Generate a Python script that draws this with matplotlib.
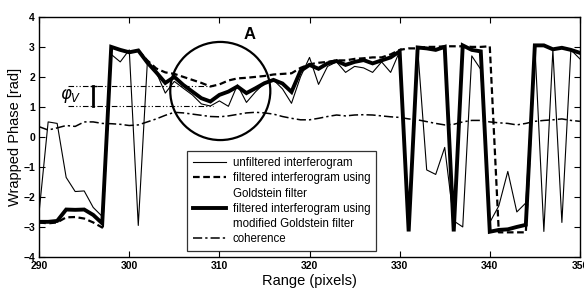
import numpy as np
import matplotlib
matplotlib.use("Agg")
import matplotlib.pyplot as plt
from matplotlib.lines import Line2D
from matplotlib.patches import Ellipse

plt.rcParams['font.family'] = ['Liberation Sans', 'DejaVu Sans']

# range axis (pixels)
rng = np.arange(290, 351)

unfiltered = [-2.5, 0.5, 0.45, -1.35, -1.82, -1.8, -2.35, -2.65, 2.75, 2.5,
              2.9, -2.95, 2.45, 2.15, 1.46, 1.85, 1.62, 1.4, 1.1, 1.03,
              1.2, 1.02, 1.73, 1.15, 1.5, 1.79, 1.9, 1.6, 1.12, 2.0,
              2.65, 1.75, 2.35, 2.5, 2.15, 2.35, 2.3, 2.15, 2.5, 2.15,
              2.85, -3.1, 2.95, -1.1, -1.25, -0.35, -2.8, -3.0, 2.7, 2.25,
              -2.85, -2.3, -1.15, -2.5, -2.2, 3.05, -3.15, 2.9, -2.85, 2.9,
              2.6]

goldstein = [-2.85, -2.88, -2.85, -2.68, -2.67, -2.72, -2.85, -3.02, 3.0, 2.9,
             2.82, 2.88, 2.55, 2.28, 2.15, 2.1, 2.0, 1.9, 1.8, 1.68,
             1.75, 1.88, 1.95, 1.97, 2.0, 2.03, 2.08, 2.1, 2.12, 2.3,
             2.42, 2.47, 2.5, 2.55, 2.55, 2.6, 2.62, 2.65, 2.65, 2.75,
             2.9, 2.95, 2.95, 3.0, 3.0, 3.02, 3.02, 3.02, 3.0, 3.0,
             3.02, -3.18, -3.18, -3.18, -3.18, 3.05, 3.05, 2.92, 2.97, 2.9,
             2.8]

modified = [-2.83, -2.83, -2.8, -2.42, -2.43, -2.42, -2.6, -2.88, 3.0, 2.9,
            2.82, 2.88, 2.48, 2.15, 1.8, 2.0, 1.73, 1.51, 1.29, 1.18,
            1.4, 1.51, 1.68, 1.46, 1.62, 1.79, 1.9, 1.78, 1.5, 2.2,
            2.4, 2.27, 2.45, 2.53, 2.4, 2.5, 2.56, 2.45, 2.55, 2.65,
            2.85, -3.15, 2.98, 2.95, 2.9, 3.0, -3.15, 3.05, 2.9, 2.85,
            -3.16, -3.1, -3.08, -3.0, -2.93, 3.05, 3.05, 2.92, 2.97, 2.9,
            2.8]

coherence = [0.34, 0.23, 0.3, 0.38, 0.35, 0.5, 0.5, 0.45, 0.44, 0.42,
             0.38, 0.4, 0.5, 0.6, 0.72, 0.82, 0.8, 0.76, 0.72, 0.68,
             0.67, 0.7, 0.75, 0.8, 0.82, 0.8, 0.76, 0.68, 0.62, 0.57,
             0.57, 0.62, 0.68, 0.73, 0.7, 0.73, 0.74, 0.73, 0.7, 0.67,
             0.65, 0.6, 0.57, 0.51, 0.45, 0.4, 0.42, 0.5, 0.55, 0.55,
             0.5, 0.47, 0.45, 0.4, 0.45, 0.52, 0.55, 0.57, 0.6, 0.55,
             0.52]

legend_labels = ['unfiltered interferogram',
                 'filtered interferogram using',
                 'Goldstein filter',
                 'filtered interferogram using',
                 'modified Goldstein filter',
                 'coherence']

fig = plt.figure(figsize=(5.84, 2.91), dpi=100)
ax = fig.add_axes([0.067, 0.117, 0.926, 0.825])

ax.plot(rng, unfiltered, color='k', lw=0.8)
ax.plot(rng, goldstein, color='k', lw=1.6, ls=(0, (3, 1.6)))
ax.plot(rng, modified, color='k', lw=2.8, solid_joinstyle='miter')
ax.plot(rng, coherence, color='k', lw=1.1, ls=(0, (6, 2, 1.5, 2)))

# region A
ax.add_patch(Ellipse((310.1, 1.53), width=11.1, height=3.27,
                     fill=False, lw=1.6, color='k'))
ax.text(313.4, 3.4, 'A', fontsize=12, fontweight='bold', ha='center', va='center')

# phase offset marker
for yv in (1.68, 1.02):
    ax.plot([293.2, 309.3], [yv, yv], color='k', lw=0.8,
            ls=(0, (5, 2, 1, 2, 1, 2)))
ax.plot([296.0, 296.0], [1.02, 1.68], color='k', lw=2.0)
ax.plot([295.7, 296.3], [1.68, 1.68], color='k', lw=1.0)
ax.text(293.5, 1.38, r'$\varphi_V$', fontsize=12, ha='center', va='center')

ax.set_xlim(290, 350)
ax.set_ylim(-4, 4)
ax.set_xticks(np.arange(290, 351, 10))
ax.set_yticks(np.arange(-4, 5, 1))
ax.tick_params(direction='in', top=True, right=True, length=4, width=0.8,
               labelsize=7.5, pad=3)
for lab in ax.get_xticklabels() + ax.get_yticklabels():
    lab.set_fontweight('bold')
for s in ax.spines.values():
    s.set_linewidth(1.0)

ax.set_xlabel('Range (pixels)', fontsize=10.5, labelpad=2)
ax.set_ylabel('Wrapped Phase [rad]', fontsize=10.5, labelpad=1)

blank = Line2D([], [], color='none')
handles = [Line2D([], [], color='k', lw=0.8),
           Line2D([], [], color='k', lw=1.6, ls=(0, (3, 1.6))),
           blank,
           Line2D([], [], color='k', lw=2.8),
           blank,
           Line2D([], [], color='k', lw=1.1, ls=(0, (6, 2, 1.5, 2)))]
leg = ax.legend(handles, legend_labels, loc='lower left',
                bbox_to_anchor=(0.273, 0.025), fontsize=8.3, frameon=True,
                fancybox=False, edgecolor='k', handlelength=2.9,
                handletextpad=0.6, labelspacing=0.28, borderpad=0.5,
                borderaxespad=0)
leg.get_frame().set_linewidth(0.9)

fig.savefig('out.png', dpi=100)
